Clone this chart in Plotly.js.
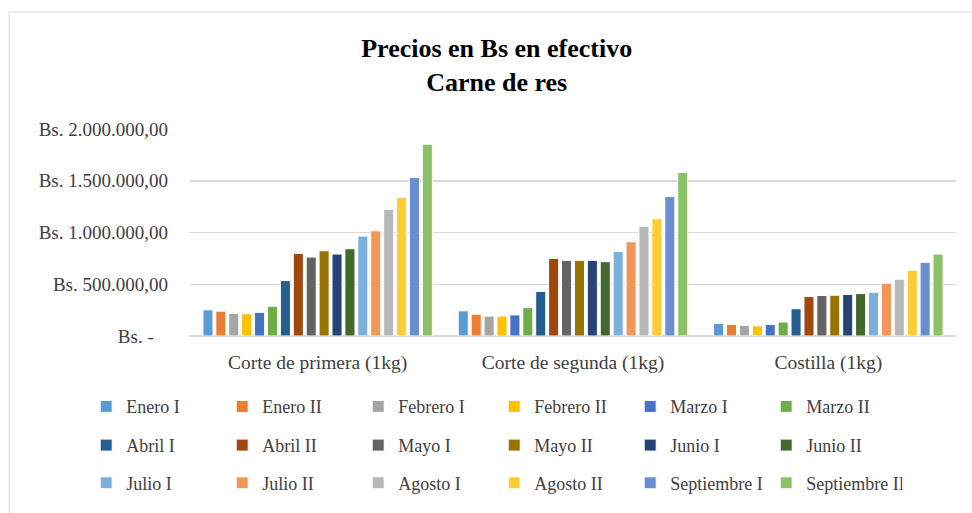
<!DOCTYPE html>
<html>
<head>
<meta charset="utf-8">
<script src="https://cdn.plot.ly/plotly-3.0.1.min.js"></script>
<style>html,body{margin:0;padding:0;background:#fff;}#chart{width:972px;height:513px;}</style>
</head>
<body>
<div id="chart"></div>
<script>
const categories = ["Corte de primera (1kg)", "Corte de segunda (1kg)", "Costilla (1kg)"];
const seriesNames = ["Enero I","Enero II","Febrero I","Febrero II","Marzo I","Marzo II",
  "Abril I","Abril II","Mayo I","Mayo II","Junio I","Junio II",
  "Julio I","Julio II","Agosto I","Agosto II","Septiembre I","Septiembre II"];
const primera = [253000,240000,218000,215000,228000,288000,535000,798000,763000,824000,792000,843000,965000,1016000,1224000,1340000,1532000,1853000];
const segunda = [243000,211000,192000,192000,204000,274000,431000,750000,731000,731000,731000,718000,817000,910000,1060000,1133000,1347000,1580000];
const costilla = [122000,112000,103000,99000,112000,135000,263000,381000,391000,394000,401000,410000,423000,510000,548000,635000,712000,792000];
const colors = ["#5B9BD5","#ED7D31","#A5A5A5","#FFC000","#4472C4","#70AD47",
  "#255E91","#9E480E","#636363","#997300","#264478","#43682B",
  "#7CAFDD","#F1975A","#B7B7B7","#FFCD33","#698ED0","#8CC168"];
const yTickVals = [0,500000,1000000,1500000,2000000];
const yTickText = ["Bs. -\u00A0\u00A0\u00A0","Bs. 500.000,00","Bs. 1.000.000,00","Bs. 1.500.000,00","Bs. 2.000.000,00"];

const font = "Liberation Serif, Times New Roman, serif";
const legendIds = ["legend", "legend2", "legend3"];
const traces = seriesNames.map((name, i) => ({
  type: "bar",
  name: name,
  x: categories,
  y: [primera[i], segunda[i], costilla[i]],
  marker: {color: colors[i], line: {color: "#ffffff", width: 1}},
  legend: legendIds[Math.floor(i / 6)],
  hoverinfo: "skip"
}));

function legendRow(py) {
  return {
    orientation: "h",
    x: -0.1355, xanchor: "left",
    y: (337.7 - py) / 208.7, yanchor: "middle",
    entrywidth: 91, entrywidthmode: "pixels",
    font: {family: font, size: 18, color: "#404040"},
    traceorder: "normal",
    bgcolor: "rgba(0,0,0,0)",
    itemclick: false, itemdoubleclick: false
  };
}

const layout = {
  width: 972, height: 513,
  paper_bgcolor: "#ffffff", plot_bgcolor: "#ffffff",
  margin: {l: 190, r: 16, t: 129, b: 175.3},
  font: {family: font, color: "#404040", size: 18},
  title: {
    text: "<b>Precios en Bs en efectivo<br>Carne de res</b>",
    font: {family: font, size: 26, color: "#000000"},
    x: 0.511, xref: "container", xanchor: "center",
    y: 1 - 57/513, yref: "container", yanchor: "top"
  },
  barmode: "group",
  bargap: 0.09,
  bargroupgap: 0.22,
  xaxis: {
    showgrid: false, showline: false, zeroline: false,
    tickfont: {family: font, size: 19.5, color: "#404040"},
    ticks: "", ticklabelstandoff: 12, fixedrange: true
  },
  yaxis: {
    range: [0, 2000000],
    tickvals: yTickVals, ticktext: yTickText,
    showgrid: true, gridcolor: "#D9D9D9", gridwidth: 1.5,
    zeroline: true, zerolinecolor: "#D9D9D9", zerolinewidth: 1.5,
    showline: false, ticks: "",
    ticklabelstandoff: 21,
    tickfont: {family: font, size: 19, color: "#404040"},
    fixedrange: true
  },
  showlegend: true,
  legend: legendRow(409),
  legend2: legendRow(448),
  legend3: legendRow(486),
  shapes: [{
    type: "rect", xref: "paper", yref: "paper",
    x0: -0.2361, x1: 1.2, y0: -1.0, y1: 1.5654,
    line: {color: "#D9D9D9", width: 1}, fillcolor: "rgba(0,0,0,0)", layer: "below"
  }]
};

Plotly.newPlot("chart", traces, layout, {displayModeBar: false, staticPlot: true});
</script>
</body>
</html>
